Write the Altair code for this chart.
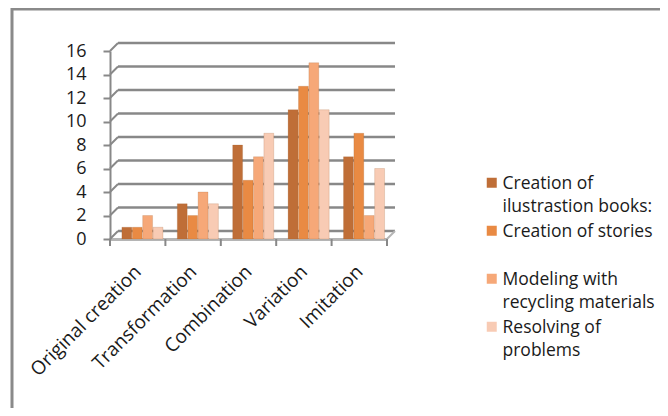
import altair as alt
import pandas as pd

categories = ["Original creation", "Transformation", "Combination", "Variation", "Imitation"]
series = [
    "Creation of ilustrastion books:",
    "Creation of stories",
    "Modeling with recycling materials",
    "Resolving of problems",
]
legend_lines = [
    ["Creation of", "ilustrastion books:"],
    ["Creation of stories", " "],
    ["Modeling with", "recycling materials"],
    ["Resolving of", "problems"],
]
books = [1, 3, 8, 11, 7]
stories = [1, 2, 5, 13, 9]
modeling = [2, 4, 7, 15, 2]
resolving = [1, 3, 9, 11, 6]
y_ticks = [0, 2, 4, 6, 8, 10, 12, 14, 16]
colors = ["#BF6E37", "#E98A43", "#F6A878", "#F8CBB4"]

rows = []
for s, vals in zip(series, [books, stories, modeling, resolving]):
    for c, v in zip(categories, vals):
        rows.append({"cat": c, "series": s, "value": v})
df = pd.DataFrame(rows)
grid_df = pd.DataFrame({"v": y_ticks})
cat_df = pd.DataFrame({"cat": categories})

W, H = 277, 188
DEPTH_X, DEPTH_Y = 8, -8
FONT = "Open Sans"
GRID = "#888888"
TEXT = "#1a1a1a"

label_expr = " : ".join(
    f"datum.label == '{s}' ? {lines!r}" for s, lines in zip(series, legend_lines)
) + " : datum.label"

yscale = alt.Scale(domain=[0, 16])
xscale = alt.Scale(domain=categories, paddingInner=0, paddingOuter=0)

x_axis = alt.Axis(title=None, labelAngle=-45, ticks=False, labelPadding=23, labelOffset=-6,
                  labelFontSize=19, labelFont=FONT, labelColor=TEXT,
                  domainColor="#b5b5b5", domainWidth=3, labelOverlap=False)
y_axis = alt.Axis(title=None, values=y_ticks, grid=False, tickSize=7, tickWidth=2,
                  tickColor=GRID, domainColor=GRID, domainWidth=2, labelPadding=17,
                  labelFontSize=18, labelFont=FONT, labelColor=TEXT,
                  labelOverlap=False)

bars = alt.Chart(df).mark_bar(stroke="#9a5a2a", strokeWidth=0.4, strokeOpacity=0.5).encode(
    x=alt.X("cat:N", sort=categories, scale=xscale, axis=x_axis),
    xOffset=alt.XOffset("series:N", sort=series,
                        scale=alt.Scale(paddingInner=0.05, paddingOuter=0.69, align=0.83)),
    y=alt.Y("value:Q", scale=yscale, axis=y_axis),
    color=alt.Color("series:N", sort=series, scale=alt.Scale(domain=series, range=colors),
                    legend=alt.Legend(title=None, orient="none", legendX=373, legendY=129,
                                      labelExpr=label_expr, labelFontSize=17.5, labelFont=FONT,
                                      labelColor=TEXT, labelLimit=0,
                                      symbolType="M-1,-2.2H1V-0.2H-1Z",
                                      symbolSize=100, symbolStrokeWidth=0, labelOffset=2,
                                      rowPadding=6, labelBaseline="alphabetic")),
)

back_grid = alt.Chart(grid_df).mark_rule(color=GRID, strokeWidth=2.5, yOffset=DEPTH_Y).encode(
    x=alt.value(DEPTH_X), x2=alt.value(W + DEPTH_X),
    y=alt.Y("v:Q", scale=yscale, axis=y_axis)
)
diag = alt.Chart(grid_df).mark_rule(color=GRID, strokeWidth=2, y2Offset=DEPTH_Y).encode(
    x=alt.value(0), x2=alt.value(DEPTH_X),
    y=alt.Y("v:Q", scale=yscale, axis=y_axis), y2="v:Q"
)
floor_diag = alt.Chart(pd.DataFrame({"v": [0]})).mark_rule(
    color="#b5b5b5", strokeWidth=2, y2Offset=DEPTH_Y
).encode(
    x=alt.value(W), x2=alt.value(W + DEPTH_X),
    y=alt.Y("v:Q", scale=yscale, axis=y_axis), y2="v:Q"
)
x_ticks = alt.Chart(cat_df).mark_rule(color=GRID, strokeWidth=2).encode(
    x=alt.X("cat:N", sort=categories, bandPosition=0, scale=xscale, axis=x_axis),
    y=alt.value(H), y2=alt.value(H + 7)
)
end_tick = alt.Chart(pd.DataFrame({"a": [0]})).mark_rule(color=GRID, strokeWidth=2).encode(
    x=alt.value(W), y=alt.value(H), y2=alt.value(H + 7)
)
border = alt.Chart(pd.DataFrame({"a": [0]})).mark_rect(
    fillOpacity=0, stroke="#8a8a8a", strokeWidth=3
).encode(x=alt.value(-98), x2=alt.value(900), y=alt.value(-42), y2=alt.value(900))

chart = alt.layer(border, back_grid, diag, floor_diag, x_ticks, end_tick, bars).properties(
    width=W, height=H,
    autosize=alt.AutoSizeParams(type="none"),
    padding={"left": 102, "top": 43, "right": 273, "bottom": 169},
    view=alt.ViewBackground(stroke="transparent", strokeWidth=0),
).configure_view(stroke="transparent", strokeWidth=0).configure(
    background="white",
    style={"guide-label": {"lineHeight": 23}},
)

chart.save("out.html", embed_options={"renderer": "svg", "actions": False})
